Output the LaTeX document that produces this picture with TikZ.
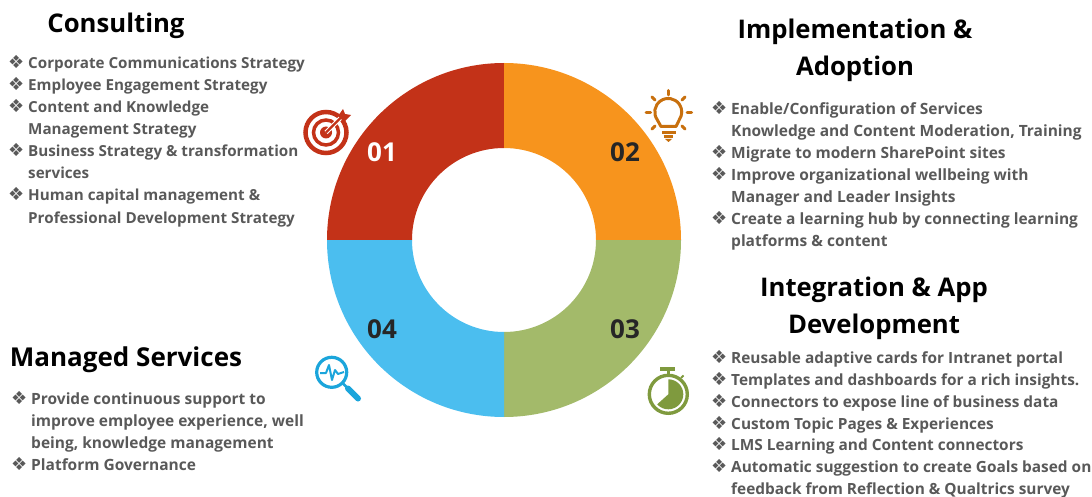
\documentclass[tikz,border=0pt]{standalone}
\usepackage{fontspec}
\setmainfont{Open Sans}
\newfontfamily\bulfont{DejaVu Sans}
\newcommand{\bitem}{\llap{{\bulfont\fontsize{18}{21}\selectfont ❖}\hspace{4pt}}}
\definecolor{txtgray}{HTML}{595959}
\definecolor{cred}{HTML}{C33218}
\definecolor{corange}{HTML}{F7941D}
\definecolor{cgreen}{HTML}{A3BA6A}
\definecolor{cblue}{HTML}{4BBEEF}
\definecolor{iorange}{HTML}{C8700E}
\definecolor{iblue}{HTML}{1BA5DB}
\definecolor{igreen}{HTML}{7F9A3E}
\tikzset{
  listblock/.style 2 args={anchor=north west,inner sep=0pt,align=left,text=txtgray,font=\bfseries\fontsize{#1}{#2}\selectfont},
  heading/.style={inner sep=0pt,align=center,text=black,font=\bfseries\fontsize{#1}{36.8}\selectfont},
  num/.style={inner sep=0pt,font=\bfseries\fontsize{26}{30}\selectfont},
}
\begin{document}
\begin{tikzpicture}[x=1pt,y=-1pt]
\useasboundingbox (0,0) rectangle (1092,497);
% donut
\fill[cred] (327,240) arc[start angle=180,end angle=270,radius=177] -- (504,148) arc[start angle=270,end angle=180,radius=92] -- cycle;
\fill[corange] (504,63) arc[start angle=270,end angle=360,radius=177] -- (596,240) arc[start angle=0,end angle=-90,radius=92] -- cycle;
\fill[cgreen] (681,240) arc[start angle=0,end angle=90,radius=177] -- (504,332) arc[start angle=90,end angle=0,radius=92] -- cycle;
\fill[cblue] (504,417) arc[start angle=90,end angle=180,radius=177] -- (412,240) arc[start angle=180,end angle=90,radius=92] -- cycle;
% numbers
\node[num,text=white] (n1) at (382,152) {01};
\node[num,text=black!85] (n2) at (625,152) {02};
\node[num,text=black!85] (n3) at (625,329) {03};
\node[num,text=black!85] (n4) at (382,329) {04};
% headings
\node[heading=25.7] (h1) at (116,26) {Consulting};
\node[heading=25.7] (h2) at (855,50.5) {Implementation \&\\Adoption};
\node[heading=25.7] (h3) at (874,308.5) {Integration \& App\\Development};
\node[heading=26] (h4) at (126,360) {Managed Services};
% lists
\node[listblock={15.2}{22.1}] (l1) at (28,55) {\bitem Corporate Communications Strategy\\\bitem Employee Engagement Strategy\\\bitem Content and Knowledge\\Management Strategy\\\bitem Business Strategy \& transformation\\services\\\bitem Human capital management \&\\Professional Development Strategy};
\node[listblock={15.5}{22.1}] (l2) at (731,101) {\bitem Enable/Configuration of Services\\Knowledge and Content Moderation, Training\\\bitem Migrate to modern SharePoint sites\\\bitem Improve organizational wellbeing with\\Manager and Leader Insights\\\bitem Create a learning hub by connecting learning\\platforms \& content};
\node[listblock={15.4}{21.9}] (l3) at (731,350) {\bitem Reusable adaptive cards for Intranet portal\\\bitem Templates and dashboards for a rich insights.\\\bitem Connectors to expose line of business data\\\bitem Custom Topic Pages \& Experiences\\\bitem LMS Learning and Content connectors\\\bitem Automatic suggestion to create Goals based on\\feedback from Reflection \& Qualtrics survey};
\node[listblock={15.5}{22}] (l4) at (31,391) {\bitem Provide continuous support to\\improve employee experience, well\\being, knowledge management\\\bitem Platform Governance};
% target icon
\draw[cred,line width=4.5pt] (326,132.5) circle[radius=20.5];
\draw[cred,line width=3.5pt] (326,132.5) circle[radius=12.5];
\fill[cred] (326,132.5) circle[radius=6];
\draw[white,line width=4.5pt] (326,132.5) -- (343,115.5);
\draw[cred,line width=2.4pt] (326,132.5) -- (343,115.5);
\fill[cred] (338,116) -- (343,109) -- (345,114) -- (351,115) -- (344,122) -- cycle;
% bulb icon
\begin{scope}[iorange,line cap=round]
\draw[line width=3pt,line join=round] (661,126.5) -- (657.2,119.7) arc[start angle=145,end angle=395,radius=13.5] -- (676,126.5) -- cycle;
\draw[line width=2.8pt,line cap=butt] (662,132.5) -- (675.5,132.5);
\draw[line width=2.4pt,line cap=butt] (663.5,136.5) -- (673,136.5);
\fill (665,139) -- (672,139) -- (668.5,142) -- cycle;
\draw[line width=3pt] (668.5,90.5) -- (668.5,95);
\draw[line width=3pt] (652,97) -- (655,100);
\draw[line width=3pt] (685,97) -- (682,100);
\draw[line width=3pt] (646,113) -- (650.5,113);
\draw[line width=3pt] (687,113) -- (691.5,113);
\draw[line width=3pt] (652,129) -- (655,126);
\draw[line width=3pt] (685,129) -- (682,126);
\end{scope}
% magnifier icon
\begin{scope}[iblue]
\draw[line width=3.2pt] (331.7,372.3) circle[radius=15];
\draw[line width=2pt,line join=round] (320,373) -- (326,373) -- (329,365) -- (332,380) -- (335,370) -- (338,374) -- (344,372);
\draw[line width=2.5pt] (343,383.5) -- (348,388.5);
\draw[line width=6pt,line cap=round] (348,388.5) -- (358,398.5);
\end{scope}
% stopwatch icon
\begin{scope}[igreen]
\draw[line width=3.4pt] (668.3,394.3) circle[radius=19];
\fill (668.3,394.3) -- (668.3,379.3) arc[start angle=270,end angle=498,radius=15] -- cycle;
\fill (660,366.5) rectangle (675,370.5);
\fill (666.5,370.5) rectangle (670,376);
\draw[line width=2pt] (681,378) -- (683.5,375.5);
\end{scope}
\end{tikzpicture}
\end{document}
